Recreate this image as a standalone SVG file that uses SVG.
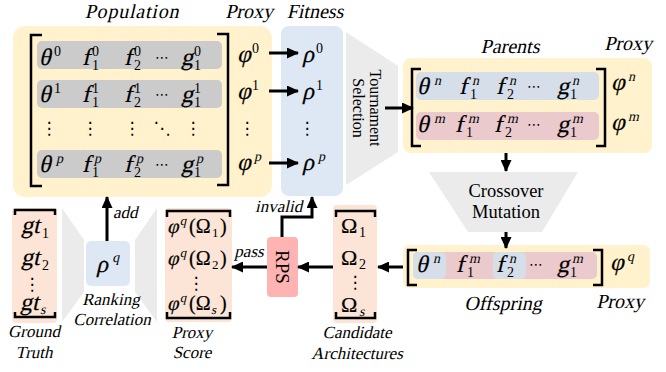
<svg xmlns="http://www.w3.org/2000/svg" width="666" height="372" viewBox="0 0 666 372">
<style>
text{font-family:'Liberation Serif','Times New Roman',serif;fill:#000}
.m{font-size:24px;stroke:#000;stroke-width:0.2}
.mo{font-size:22px;stroke:#000;stroke-width:0.2}
.s{font-size:14px}
.el{font-family:'DejaVu Sans',sans-serif;font-size:17px}
.el2{font-family:'DejaVu Sans',sans-serif;font-size:14px}
.t1{font-size:20px}
.t2{font-size:17px}
.rm{font-size:18.5px}
.yel{fill:#FFF2CC}
.blu{fill:#DDE8F4}
.sal{fill:#FCE4D6}
.gry{fill:#EBEBEB}
.row{fill:#CBCBCB}
.br{fill:none;stroke:#000;stroke-width:2.5}
.ar{fill:none;stroke:#000;stroke-width:3;marker-end:url(#ah)}
</style>
<defs>
<marker id="ah" markerUnits="userSpaceOnUse" markerWidth="12" markerHeight="11" refX="11" refY="5.5" orient="auto">
<path d="M0,0 L12,5.5 L0,11 z" fill="#000"/>
</marker>
</defs>

<polygon class="gry" points="346,32 398,66 398,152 346,185"/>
<polygon class="gry" points="429,172 578,172 542,232 468,232"/>
<polygon class="gry" points="62,208 84,240 84,292 62,322"/>
<polygon class="gry" points="157,208 135,240 135,292 157,322"/>

<g id="population">
<rect class="yel" x="13" y="26" width="259" height="171" rx="12"/>
<text class="t1" transform="translate(132,18) skewX(-13)" text-anchor="middle" letter-spacing="0.8">Population</text>
<text class="t1" transform="translate(249,18) skewX(-13)" text-anchor="middle">Proxy</text>
<rect class="row" x="37" y="41" width="185" height="28" rx="5"/>
<rect class="row" x="37" y="80" width="185" height="28" rx="5"/>
<rect class="row" x="37" y="150" width="185" height="28" rx="5"/>
<polyline class="br" points="42,35 31,35 31,186 42,186"/>
<polyline class="br" points="217,34 228,34 228,185 217,185"/>
<g transform="translate(0,65) skewX(-13)">
<text class="m" x="39" y="0">θ</text><text class="m" x="82" y="0">f</text><text class="m" x="124" y="0">f</text><text class="m" x="181" y="0">g</text>
</g>
<g transform="translate(0,65)">
<text class="s" x="54" y="-9">0</text>
<text class="s" x="92" y="-9">0</text><text class="s" x="92" y="5">1</text>
<text class="s" x="134" y="-9">0</text><text class="s" x="134" y="5">2</text>
<text class="el2" x="155" y="-3">⋯</text>
<text class="s" x="194" y="-9">0</text><text class="s" x="194" y="5">1</text>
</g>
<g transform="translate(0,102) skewX(-13)">
<text class="m" x="39" y="0">θ</text><text class="m" x="82" y="0">f</text><text class="m" x="124" y="0">f</text><text class="m" x="181" y="0">g</text>
</g>
<g transform="translate(0,102)">
<text class="s" x="54" y="-9">1</text>
<text class="s" x="92" y="-9">1</text><text class="s" x="92" y="5">1</text>
<text class="s" x="134" y="-9">1</text><text class="s" x="134" y="5">2</text>
<text class="el2" x="155" y="-3">⋯</text>
<text class="s" x="194" y="-9">1</text><text class="s" x="194" y="5">1</text>
</g>
<text class="el" x="49" y="134" text-anchor="middle">⋮</text>
<text class="el" x="90" y="134" text-anchor="middle">⋮</text>
<text class="el" x="132" y="134" text-anchor="middle">⋮</text>
<text class="el" x="162" y="134" text-anchor="middle">⋱</text>
<text class="el" x="193" y="134" text-anchor="middle">⋮</text>
<g transform="translate(0,172) skewX(-13)">
<text class="m" x="39" y="0">θ</text><text class="m" x="82" y="0">f</text><text class="m" x="124" y="0">f</text><text class="m" x="181" y="0">g</text>
<text class="s" x="54" y="-9">p</text><text class="s" x="92" y="-9">p</text><text class="s" x="134" y="-9">p</text><text class="s" x="194" y="-9">p</text>
</g>
<g transform="translate(0,172)">
<text class="s" x="92" y="5">1</text>
<text class="s" x="134" y="5">2</text>
<text class="el2" x="155" y="-3">⋯</text>
<text class="s" x="194" y="5">1</text>
</g>
<g transform="translate(0,62) skewX(-13)"><text class="m" x="237" y="0">φ</text></g>
<text class="s" x="252" y="53">0</text>
<g transform="translate(0,99) skewX(-13)"><text class="m" x="237" y="0">φ</text></g>
<text class="s" x="252" y="90">1</text>
<text class="el" x="247" y="134" text-anchor="middle">⋮</text>
<g transform="translate(0,170) skewX(-13)"><text class="m" x="237" y="0">φ</text><text class="s" x="252" y="-9">p</text></g>
</g>

<g id="fitness">
<rect class="blu" x="281" y="26" width="62" height="170" rx="8"/>
<text class="t1" transform="translate(315,18) skewX(-13)" text-anchor="middle">Fitness</text>
<g transform="translate(0,62) skewX(-13)"><text class="m" x="302" y="0">ρ</text></g>
<text class="s" x="316" y="53">0</text>
<g transform="translate(0,99) skewX(-13)"><text class="m" x="302" y="0">ρ</text></g>
<text class="s" x="316" y="90">1</text>
<text class="el" x="307" y="134" text-anchor="middle">⋮</text>
<g transform="translate(0,170) skewX(-13)"><text class="m" x="302" y="0">ρ</text><text class="s" x="316" y="-9">p</text></g>
</g>

<g id="tournament">
<text class="rm" style="font-size:16px" transform="translate(370,108) rotate(90)" text-anchor="middle">Tournament</text>
<text class="rm" style="font-size:16px" transform="translate(353,108) rotate(90)" text-anchor="middle">Selection</text>
</g>

<g id="parents">
<rect class="yel" x="403" y="58" width="249" height="95" rx="8"/>
<text class="t1" transform="translate(510,53) skewX(-13)" text-anchor="middle">Parents</text>
<text class="t1" transform="translate(628,50) skewX(-13)" text-anchor="middle">Proxy</text>
<rect fill="#D6DEE9" x="416" y="72" width="183" height="28" rx="5"/>
<rect fill="#EBCACE" x="416" y="112" width="183" height="28" rx="5"/>
<polyline class="br" points="421,69 412,69 412,146 421,146"/>
<polyline class="br" points="596,69 605,69 605,146 596,146"/>
<g transform="translate(0,94) skewX(-13)">
<text class="m" x="417" y="0">θ</text><text class="s" x="432" y="-9">n</text>
<text class="m" x="459" y="0">f</text><text class="s" x="470" y="-9">n</text>
<text class="m" x="496" y="0">f</text><text class="s" x="507" y="-9">n</text>
<text class="m" x="557" y="0">g</text><text class="s" x="570" y="-9">n</text>
</g>
<g transform="translate(0,94)">
<text class="s" x="470" y="5">1</text><text class="s" x="507" y="5">2</text>
<text class="el2" x="527" y="-3">⋯</text>
<text class="s" x="570" y="5">1</text>
</g>
<g transform="translate(0,132) skewX(-13)">
<text class="m" x="417" y="0">θ</text><text class="s" x="432" y="-9">m</text>
<text class="m" x="455" y="0">f</text><text class="s" x="466" y="-9">m</text>
<text class="m" x="494" y="0">f</text><text class="s" x="505" y="-9">m</text>
<text class="m" x="557" y="0">g</text><text class="s" x="570" y="-9">m</text>
</g>
<g transform="translate(0,132)">
<text class="s" x="466" y="5">1</text><text class="s" x="505" y="5">2</text>
<text class="el2" x="527" y="-3">⋯</text>
<text class="s" x="570" y="5">1</text>
</g>
<g transform="translate(0,90) skewX(-13)"><text class="m" x="611" y="0">φ</text><text class="s" x="626" y="-9">n</text></g>
<g transform="translate(0,130) skewX(-13)"><text class="m" x="611" y="0">φ</text><text class="s" x="626" y="-9">m</text></g>
</g>

<g id="crossover">
<text class="rm" x="506" y="197" text-anchor="middle">Crossover</text>
<text class="rm" x="506" y="218" text-anchor="middle">Mutation</text>
</g>

<g id="offspring">
<rect class="yel" x="403" y="245" width="247" height="43" rx="6"/>
<rect fill="#EBCACE" x="413" y="252" width="184" height="27" rx="5"/>
<rect fill="#D6DEE9" x="413" y="252" width="33" height="27" rx="5"/>
<rect fill="#D6DEE9" x="493" y="252" width="33" height="27" rx="5"/>
<polyline class="br" points="417,250 408,250 408,285 417,285"/>
<polyline class="br" points="593,250 602,250 602,285 593,285"/>
<g transform="translate(0,272) skewX(-13)">
<text class="m" x="416" y="0">θ</text><text class="s" x="431" y="-9">n</text>
<text class="m" x="456" y="0">f</text><text class="s" x="467" y="-9">m</text>
<text class="m" x="496" y="0">f</text><text class="s" x="507" y="-9">n</text>
<text class="m" x="557" y="0">g</text><text class="s" x="570" y="-9">m</text>
</g>
<g transform="translate(0,272)">
<text class="s" x="467" y="5">1</text><text class="s" x="507" y="5">2</text>
<text class="el2" x="529" y="-3">⋯</text>
<text class="s" x="570" y="5">1</text>
</g>
<g transform="translate(0,270) skewX(-13)"><text class="m" x="610" y="0">φ</text><text class="s" x="625" y="-9">q</text></g>
<text class="t1" transform="translate(503,310) skewX(-13)" text-anchor="middle">Offspring</text>
<text class="t1" transform="translate(620,308) skewX(-13)" text-anchor="middle">Proxy</text>
</g>

<g id="candidates">
<rect class="sal" x="333" y="205" width="44" height="118" rx="4"/>
<polyline class="br" points="336,217 336,211 375,211 375,217"/>
<polyline class="br" points="336,312 336,318 375,318 375,312"/>
<text class="mo" x="341" y="233">Ω</text><text class="s" x="359" y="237">1</text>
<text class="mo" x="341" y="265">Ω</text><text class="s" x="359" y="269">2</text>
<text class="el" x="355" y="288" text-anchor="middle">⋮</text>
<text class="mo" x="341" y="312">Ω</text><g transform="translate(359,316) skewX(-13)"><text class="s" x="0" y="0">s</text></g>
<text class="t2" transform="translate(357,338) skewX(-13)" text-anchor="middle">Candidate</text>
<text class="t2" transform="translate(357,359) skewX(-13)" text-anchor="middle">Architectures</text>
</g>

<g id="rps">
<rect fill="#FFB3B3" x="267" y="237" width="31" height="60" rx="4"/>
<text class="rm" style="font-size:19px" transform="translate(276,267) rotate(90)" text-anchor="middle">RPS</text>
</g>

<g id="proxyscore">
<rect class="sal" x="165" y="208" width="67" height="114" rx="4"/>
<polyline class="br" points="167,217 167,211 230,211 230,217"/>
<polyline class="br" points="167,312 167,318 230,318 230,312"/>
<g transform="translate(0,233) skewX(-13)"><text class="m" style="font-size:20px" x="167" y="0">φ</text><text class="s" style="font-size:13px" x="178" y="-8">q</text></g>
<text class="m" style="font-size:20px" x="189" y="233">(Ω</text><text class="s" style="font-size:13px" x="212" y="237">1</text><text class="m" style="font-size:20px" x="220" y="233">)</text>
<g transform="translate(0,265) skewX(-13)"><text class="m" style="font-size:20px" x="167" y="0">φ</text><text class="s" style="font-size:13px" x="178" y="-8">q</text></g>
<text class="m" style="font-size:20px" x="189" y="265">(Ω</text><text class="s" style="font-size:13px" x="212" y="269">2</text><text class="m" style="font-size:20px" x="220" y="265">)</text>
<text class="el" x="196" y="289" text-anchor="middle">⋮</text>
<g transform="translate(0,310) skewX(-13)"><text class="m" style="font-size:20px" x="167" y="0">φ</text><text class="s" style="font-size:13px" x="178" y="-8">q</text><text class="s" style="font-size:13px" x="212" y="4">s</text></g>
<text class="m" style="font-size:20px" x="189" y="310">(Ω</text><text class="m" style="font-size:20px" x="220" y="310">)</text>
<text class="t2" transform="translate(192,338) skewX(-13)" text-anchor="middle">Proxy</text>
<text class="t2" transform="translate(192,358) skewX(-13)" text-anchor="middle">Score</text>
</g>

<g id="ranking">
<rect class="blu" x="86" y="241" width="44" height="45" rx="5"/>
<g transform="translate(0,272) skewX(-13)"><text class="m" x="96" y="0">ρ</text><text class="s" x="110" y="-10">q</text></g>
<text class="t2" transform="translate(111,305) skewX(-13)" text-anchor="middle">Ranking</text>
<text class="t2" transform="translate(112,325) skewX(-13)" text-anchor="middle">Correlation</text>
</g>

<g id="groundtruth">
<rect class="sal" x="12" y="208" width="45" height="115" rx="4"/>
<polyline class="br" points="15,215 15,210 55,210 55,215"/>
<polyline class="br" points="15,312 15,317 55,317 55,312"/>
<g transform="translate(0,233) skewX(-13)"><text class="m" x="21" y="0">gt</text></g>
<text class="s" x="42" y="238">1</text>
<g transform="translate(0,265) skewX(-13)"><text class="m" x="21" y="0">gt</text></g>
<text class="s" x="42" y="270">2</text>
<text class="el" x="32" y="290" text-anchor="middle">⋮</text>
<g transform="translate(0,310) skewX(-13)"><text class="m" x="20" y="0">gt</text><text class="s" x="41" y="4">s</text></g>
<text class="t2" transform="translate(34,337) skewX(-13)" text-anchor="middle">Ground</text>
<text class="t2" transform="translate(34,358) skewX(-13)" text-anchor="middle">Truth</text>
</g>

<g id="connectors">
<line class="ar" x1="269" y1="53" x2="298" y2="53"/>
<line class="ar" x1="269" y1="91" x2="298" y2="91"/>
<line class="ar" x1="269" y1="163" x2="298" y2="163"/>
<line class="ar" x1="385" y1="108" x2="413" y2="108"/>
<line class="ar" x1="506" y1="153" x2="506" y2="171"/>
<line class="ar" x1="506" y1="232" x2="506" y2="248"/>
<line class="ar" x1="403" y1="267" x2="378" y2="267"/>
<line class="ar" x1="333" y1="267" x2="298" y2="267"/>
<line class="ar" x1="267" y1="267" x2="232" y2="267"/>
<polyline class="ar" points="282,237 282,217 312,217 312,197"/>
<line class="ar" x1="107" y1="241" x2="107" y2="197"/>
<text class="t2" transform="translate(255,212) skewX(-13)">invalid</text>
<text class="t2" transform="translate(249,257) skewX(-13)" text-anchor="middle">pass</text>
<text class="t2" transform="translate(113,218) skewX(-13)">add</text>
</g>
</svg>
